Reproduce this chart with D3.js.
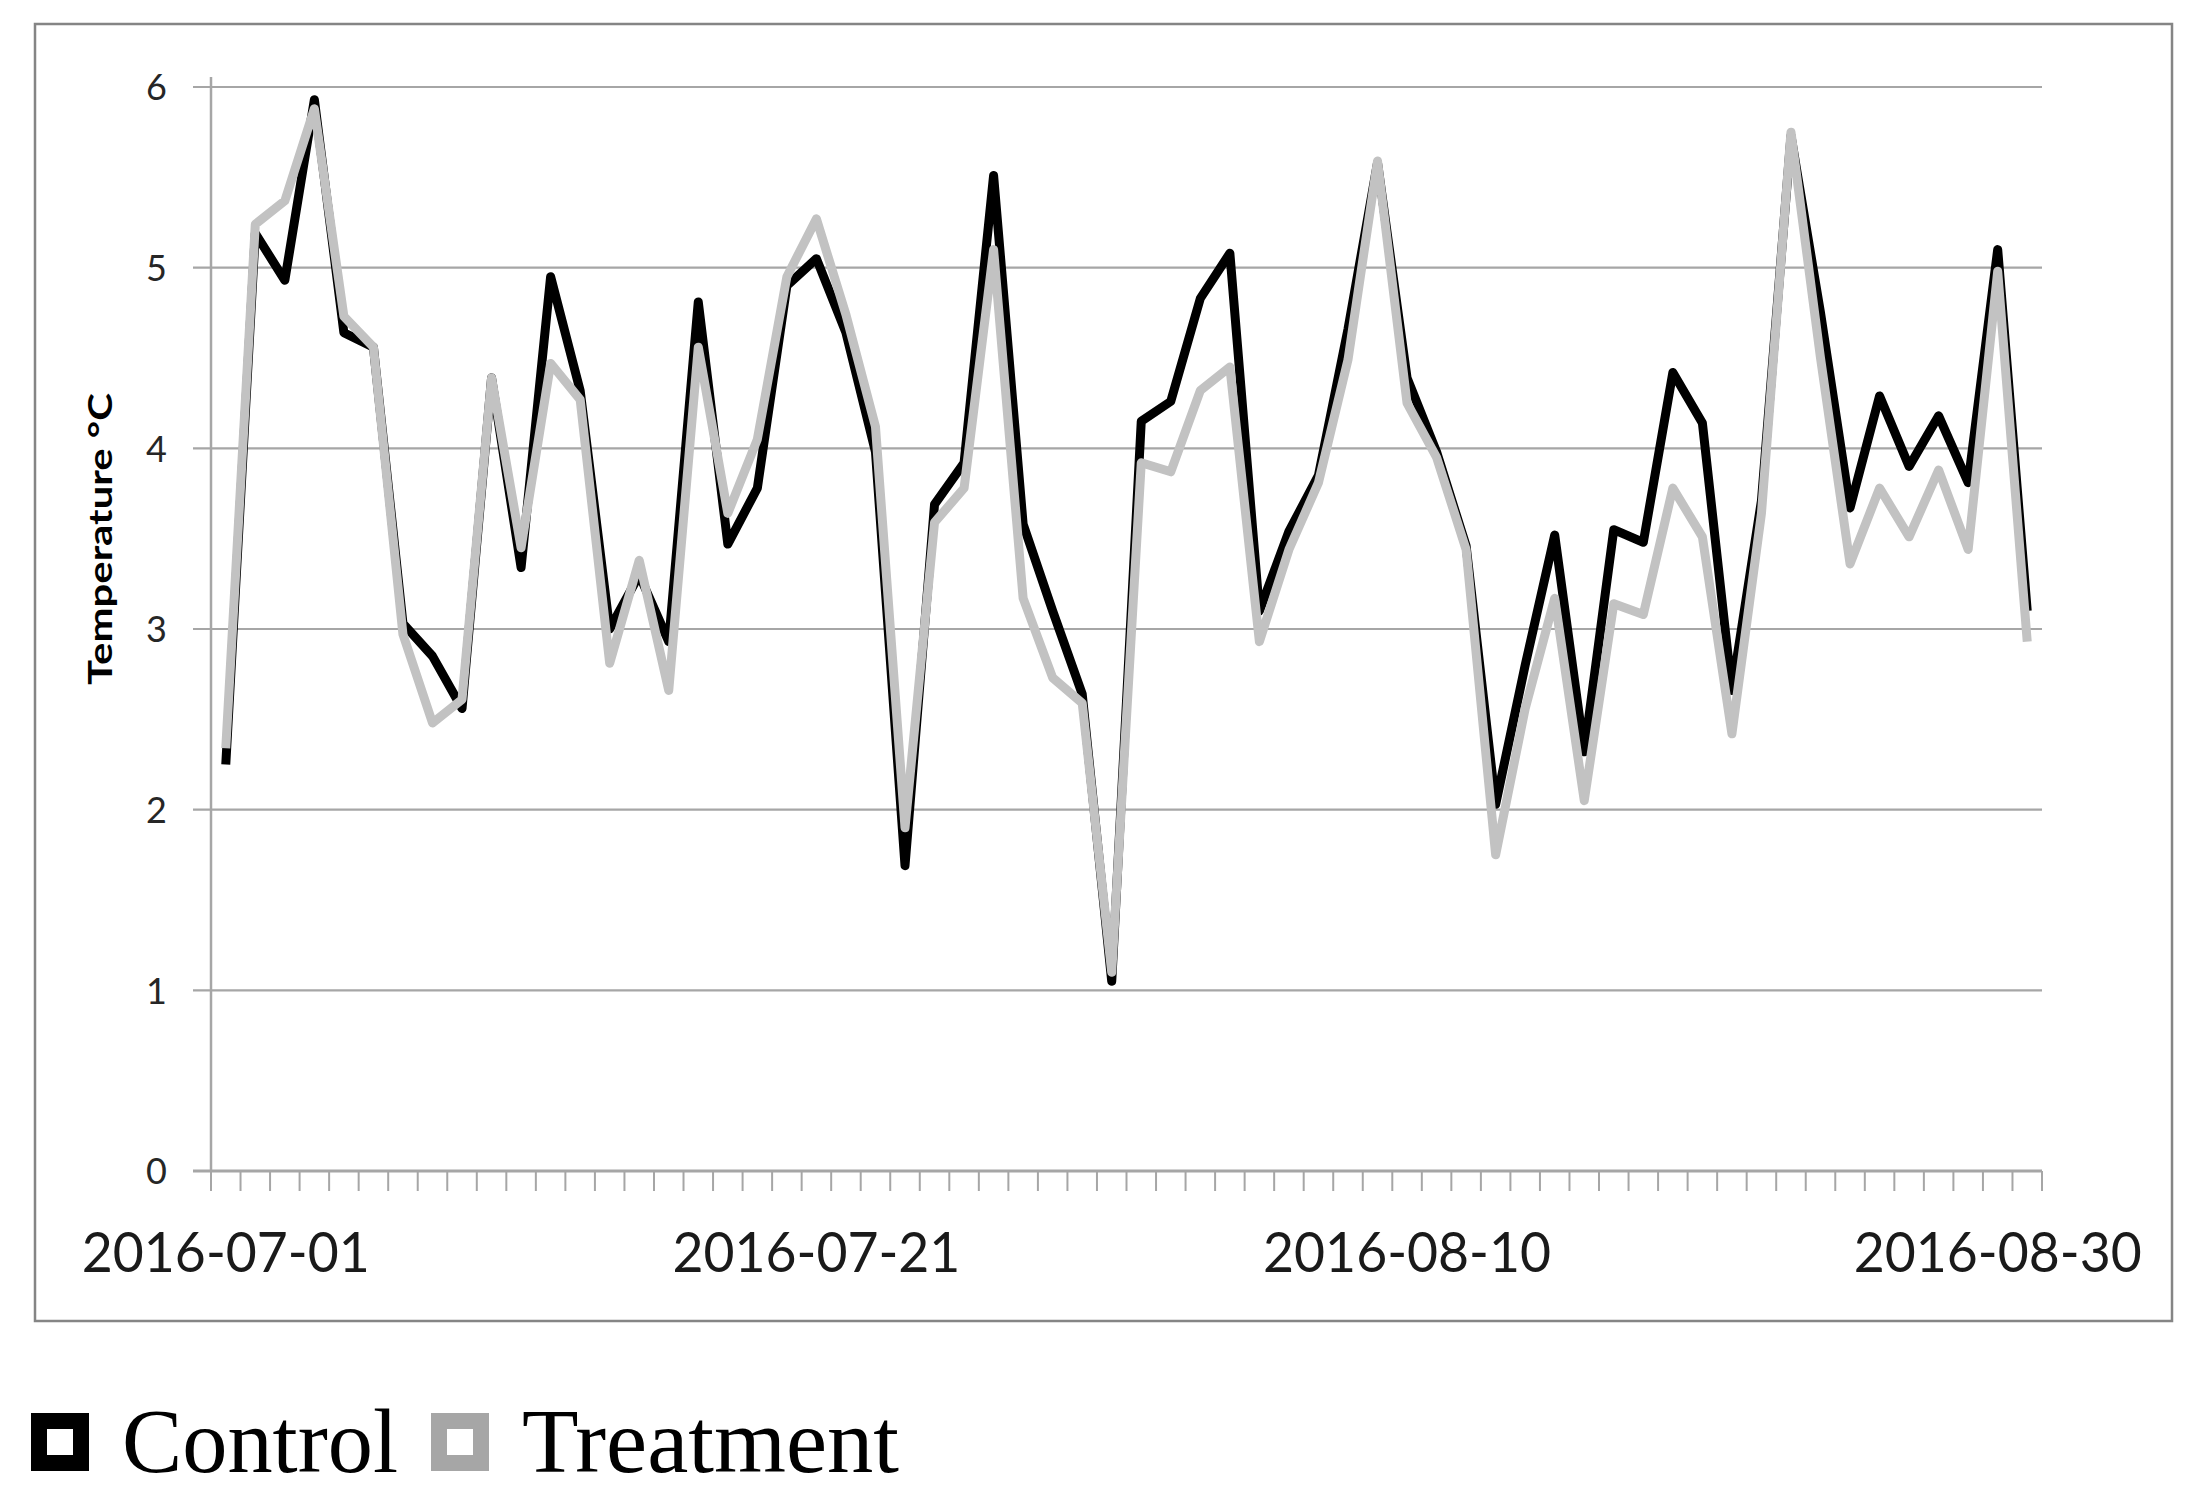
<!DOCTYPE html>
<html>
<head>
<meta charset="utf-8">
<script src="https://cdn.jsdelivr.net/npm/d3@7"></script>
<style>
  html, body { margin: 0; padding: 0; background: #fff; }
  svg { display: block; }
</style>
</head>
<body>
<svg id="chart" width="2204" height="1497"></svg>
<script>
// ---------- DATA ----------
const dates = [
  "2016-07-01","2016-07-02","2016-07-03","2016-07-04","2016-07-05","2016-07-06","2016-07-07","2016-07-08",
  "2016-07-09","2016-07-10","2016-07-11","2016-07-12","2016-07-13","2016-07-14","2016-07-15","2016-07-16",
  "2016-07-17","2016-07-18","2016-07-19","2016-07-20","2016-07-21","2016-07-22","2016-07-23","2016-07-24",
  "2016-07-25","2016-07-26","2016-07-27","2016-07-28","2016-07-29","2016-07-30","2016-07-31","2016-08-01",
  "2016-08-02","2016-08-03","2016-08-04","2016-08-05","2016-08-06","2016-08-07","2016-08-08","2016-08-09",
  "2016-08-10","2016-08-11","2016-08-12","2016-08-13","2016-08-14","2016-08-15","2016-08-16","2016-08-17",
  "2016-08-18","2016-08-19","2016-08-20","2016-08-21","2016-08-22","2016-08-23","2016-08-24","2016-08-25",
  "2016-08-26","2016-08-27","2016-08-28","2016-08-29","2016-08-30","2016-08-31"
];
const control = [
  2.25, 5.19, 4.93, 5.93, 4.64, 4.56, 3.03, 2.85, 2.56, 4.39,
  3.34, 4.95, 4.32, 3.00, 3.30, 2.93, 4.81, 3.47, 3.78, 4.90,
  5.05, 4.64, 3.98, 1.69, 3.69, 3.92, 5.51, 3.58, 3.10, 2.64,
  1.05, 4.15, 4.26, 4.83, 5.08, 3.10, 3.54, 3.85, 4.66, 5.58,
  4.39, 3.98, 3.46, 2.03, 2.80, 3.52, 2.32, 3.55, 3.48, 4.42,
  4.14, 2.66, 3.71, 5.73, 4.75, 3.67, 4.29, 3.90, 4.18, 3.81,
  5.10, 3.10
];
const treatment = [
  2.34, 5.24, 5.37, 5.88, 4.73, 4.56, 2.97, 2.48, 2.61, 4.39,
  3.45, 4.47, 4.27, 2.81, 3.38, 2.66, 4.56, 3.64, 4.05, 4.95,
  5.27, 4.74, 4.12, 1.90, 3.59, 3.78, 5.10, 3.17, 2.73, 2.59,
  1.10, 3.92, 3.87, 4.32, 4.45, 2.93, 3.44, 3.81, 4.49, 5.59,
  4.25, 3.95, 3.44, 1.75, 2.56, 3.17, 2.05, 3.14, 3.08, 3.78,
  3.51, 2.42, 3.64, 5.75, 4.50, 3.36, 3.78, 3.51, 3.88, 3.44,
  4.98, 2.93
];
const xTickLabels = ["2016-07-01","2016-07-21","2016-08-10","2016-08-30"];
const yTicks = [0, 1, 2, 3, 4, 5, 6];
const seriesNames = ["Control", "Treatment"];
const yTitle = "Temperature °C";

// ---------- LAYOUT ----------
const svg = d3.select("#chart");
const plot = { left: 211, right: 2042, top: 87, bottom: 1171 };

svg.append("rect").attr("x", 0).attr("y", 0).attr("width", 2204).attr("height", 1497).attr("fill", "#fff");

// outer frame
svg.append("rect")
  .attr("x", 35).attr("y", 24).attr("width", 2137).attr("height", 1297)
  .attr("fill", "none").attr("stroke", "#858585").attr("stroke-width", 2.5);

const x = d3.scaleBand().domain(dates).range([plot.left, plot.right]).padding(0);
const y = d3.scaleLinear().domain([0, 6]).range([plot.bottom, plot.top]);
const cx = d => x(d) + x.bandwidth() / 2;

// gridlines (with outward tick extension)
svg.append("g").selectAll("line").data(yTicks).join("line")
  .attr("x1", plot.left - 18).attr("x2", plot.right)
  .attr("y1", d => y(d)).attr("y2", d => y(d))
  .attr("stroke", "#a6a6a6").attr("stroke-width", 2.2);

// y axis line
svg.append("line")
  .attr("x1", plot.left).attr("x2", plot.left)
  .attr("y1", plot.top - 10).attr("y2", plot.bottom)
  .attr("stroke", "#a6a6a6").attr("stroke-width", 2.5);

// y tick labels via axis
const yAxis = svg.append("g")
  .attr("transform", `translate(${plot.left - 44},0)`)
  .call(d3.axisLeft(y).tickValues(yTicks).tickSize(0).tickFormat(d3.format("d")));
yAxis.select(".domain").remove();
yAxis.selectAll("text")
  .attr("x", 0).attr("dy", "0.36em")
  .style("font-family", "Lato, 'Open Sans', sans-serif")
  .style("font-size", "36px").attr("fill", "#262626");

// x axis ticks at band boundaries
const boundaries = dates.map(d => x(d)).concat([plot.right]);
svg.append("g").selectAll("line").data(boundaries).join("line")
  .attr("x1", d => d).attr("x2", d => d)
  .attr("y1", plot.bottom).attr("y2", plot.bottom + 20)
  .attr("stroke", "#a6a6a6").attr("stroke-width", 2);
svg.append("line")
  .attr("x1", plot.left - 18).attr("x2", plot.right)
  .attr("y1", plot.bottom).attr("y2", plot.bottom)
  .attr("stroke", "#a6a6a6").attr("stroke-width", 3);

// x tick labels via axis
const xAxis = svg.append("g")
  .attr("transform", `translate(0,${plot.bottom})`)
  .call(d3.axisBottom(x).tickValues(xTickLabels).tickSize(0));
xAxis.select(".domain").remove();
xAxis.selectAll("text")
  .attr("y", 101).attr("dy", 0)
  .attr("textLength", 288).attr("lengthAdjust", "spacingAndGlyphs")
  .style("font-family", "Lato, sans-serif")
  .style("font-size", "57px").attr("fill", "#1a1a1a");

// lines
const line = vals => d3.line().x((d, i) => cx(dates[i])).y(d => y(d))(vals);
svg.append("path").attr("d", line(control))
  .attr("fill", "none").attr("stroke", "#000").attr("stroke-width", 9)
  .attr("stroke-linejoin", "round").attr("stroke-linecap", "butt");
svg.append("path").attr("d", line(treatment))
  .attr("fill", "none").attr("stroke", "#c2c2c2").attr("stroke-width", 9)
  .attr("stroke-linejoin", "round").attr("stroke-linecap", "butt");

// y title
svg.append("text")
  .attr("transform", `translate(112,539) rotate(-90)`)
  .attr("text-anchor", "middle")
  .attr("textLength", 292).attr("lengthAdjust", "spacingAndGlyphs")
  .style("font-family", "Lato, sans-serif")
  .style("font-weight", "bold").style("font-size", "33px")
  .attr("fill", "#000")
  .text(yTitle);

// legend
const legendColors = ["#000", "#a6a6a6"];
const legendX = [31, 431];
const textLens = [276, 377];
const leg = svg.append("g");
seriesNames.forEach((name, i) => {
  leg.append("rect")
    .attr("x", legendX[i] + 8).attr("y", 1413 + 8).attr("width", 42).attr("height", 42)
    .attr("fill", "#fff").attr("stroke", legendColors[i]).attr("stroke-width", 16);
  leg.append("text")
    .attr("x", legendX[i] + 91).attr("y", 1472)
    .attr("textLength", textLens[i]).attr("lengthAdjust", "spacingAndGlyphs")
    .style("font-family", "'Liberation Serif', 'Times New Roman', serif")
    .style("font-size", "90px").attr("fill", "#000")
    .text(name);
});
</script>
</body>
</html>
